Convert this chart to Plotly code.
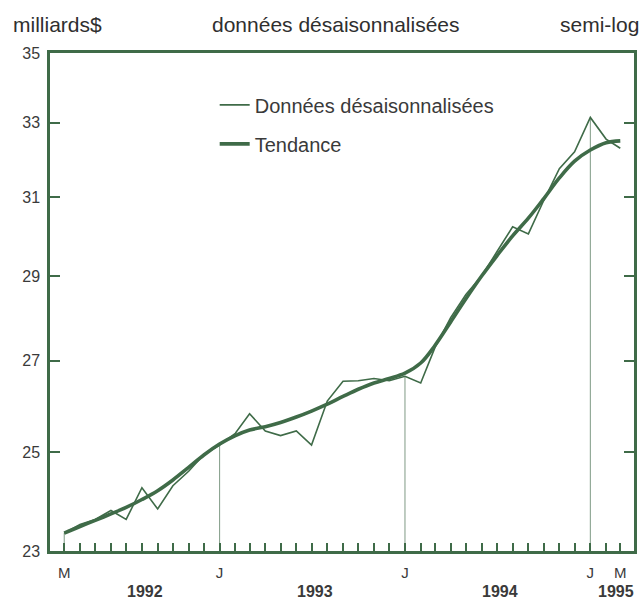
import math
import pandas as pd
import plotly.graph_objects as go

# Monthly observations, March 1992 to March 1995
months = pd.date_range("1992-03-01", "1995-03-01", freq="MS")

donnees = [23.35, 23.52, 23.62, 23.80, 23.62, 24.26, 23.83, 24.30, 24.60, 24.95,
           25.15, 25.40, 25.82, 25.45, 25.35, 25.45, 25.15, 26.10, 26.54, 26.55,
           26.60, 26.55, 26.65, 26.50, 27.30, 28.00, 28.55, 29.00, 29.60, 30.23,
           30.05, 30.90, 31.75, 32.20, 33.15, 32.55, 32.30]

tendance = [23.35, 23.48, 23.60, 23.73, 23.86, 24.02, 24.20, 24.42, 24.68, 24.94,
            25.17, 25.35, 25.47, 25.54, 25.63, 25.75, 25.88, 26.03, 26.20, 26.36,
            26.50, 26.60, 26.72, 26.95, 27.35, 27.90, 28.45, 29.00, 29.50, 30.00,
            30.45, 30.95, 31.50, 31.95, 32.25, 32.45, 32.50]

month_labels = ["M"] + [""] * 9 + ["J"] + [""] * 11 + ["J"] + [""] * 11 + ["J", "", "M"]
drop_idx = [0, 10, 22, 34]
year_labels = ["1992", "1993", "1994", "1995"]
year_pos = ["1992-08-07", "1993-07-07", "1994-07-07", "1995-02-20"]
y_ticks = [23, 25, 27, 29, 31, 33, 35]

GREEN = "#3f6b48"
FONT = "Liberation Sans, Arial, sans-serif"

# vertical drop lines at the labelled months
dx, dy = [], []
for i in drop_idx:
    dx += [months[i], months[i], None]
    dy += [y_ticks[0], donnees[i], None]

fig = go.Figure()
fig.add_trace(go.Scatter(x=dx, y=dy, mode="lines", showlegend=False,
                         line=dict(color="#7f9a85", width=1), hoverinfo="skip"))
fig.add_trace(go.Scatter(x=months, y=donnees, mode="lines", name="Données désaisonnalisées",
                         legendgroup="a", line=dict(color=GREEN, width=1.6)))
fig.add_trace(go.Scatter(x=months, y=tendance, mode="lines", name="Tendance",
                         legendgroup="b", line=dict(color=GREEN, width=3.6, shape="spline")))

fig.update_layout(
    width=643, height=600,
    margin=dict(l=50, r=6, t=53, b=49),
    paper_bgcolor="white", plot_bgcolor="white",
    font=dict(family=FONT, color="#333333", size=16),
    legend=dict(x=0.282, y=0.935, xanchor="left", yanchor="top",
                bgcolor="rgba(0,0,0,0)", traceorder="grouped", tracegroupgap=10,
                font=dict(size=20, color="#3a3a3a")),
    showlegend=True,
)

fig.update_xaxes(
    range=["1992-02-02", "1995-03-28"],
    tickvals=list(months), ticktext=month_labels,
    ticks="inside", ticklen=8, tickwidth=1.5, tickcolor=GREEN,
    showline=True, linecolor=GREEN, linewidth=2.5, mirror=True,
    showgrid=False, zeroline=False,
    tickfont=dict(size=15, color="#3a3a3a"), ticklabelstandoff=6,
)
fig.update_yaxes(
    type="log", range=[math.log10(23), math.log10(35)],
    tickvals=y_ticks, ticktext=[str(v) for v in y_ticks],
    ticks="inside", ticklen=10, tickwidth=2, tickcolor=GREEN,
    showline=True, linecolor=GREEN, linewidth=2.5, mirror="ticks",
    showgrid=False, zeroline=False,
    tickfont=dict(size=16, color="#3a3a3a"), ticklabelstandoff=4,
)

for lab, pos in zip(year_labels, year_pos):
    fig.add_annotation(x=pos, y=-0.082, xref="x", yref="paper", text="<b>" + lab + "</b>",
                       showarrow=False, font=dict(size=16, color="#3a3a3a"),
                       xanchor="center", yanchor="middle")

fig.add_annotation(x=-0.066, y=1.058, xref="paper", yref="paper", text="milliards$",
                   showarrow=False, xanchor="left", yanchor="middle",
                   font=dict(size=21, color="#2f2f2f"))
fig.add_annotation(x=0.49, y=1.058, xref="paper", yref="paper", text="données désaisonnalisées",
                   showarrow=False, xanchor="center", yanchor="middle",
                   font=dict(size=21, color="#2f2f2f"))
fig.add_annotation(x=1.012, y=1.058, xref="paper", yref="paper", text="semi-log",
                   showarrow=False, xanchor="right", yanchor="middle",
                   font=dict(size=21, color="#2f2f2f"))

fig.write_html("out.html", config={"displayModeBar": False},
               post_script="document.body.style.margin='0';")
